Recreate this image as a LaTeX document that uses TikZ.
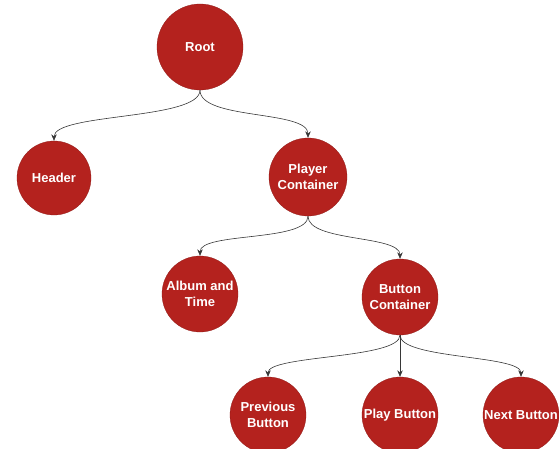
\documentclass[tikz,border=0pt]{standalone}
\usepackage{fontspec}
\setmainfont{Liberation Sans}
\usetikzlibrary{arrows.meta}

\definecolor{treered}{RGB}{180, 34, 30}
\definecolor{linkgray}{RGB}{55, 55, 55}

\begin{document}
\begin{tikzpicture}[x=1pt, y=-1pt,
    comp/.style={circle, fill=treered, draw=treered!80!black, line width=0.3pt,
      minimum size=76pt, inner sep=0pt, text=white, align=center,
      font=\fontsize{13}{16}\selectfont\bfseries},
    link/.style={draw=linkgray, line width=0.6pt, -{Stealth[length=6.5pt,width=5.5pt]}}]
    \useasboundingbox (0,0) rectangle (559,449);

    % Root
    \node[comp, minimum size=86pt] (root) at (200,47) {Root};

    % Second level
    \node[comp, minimum size=74pt] (header) at (54,178) {Header};
    \node[comp, minimum size=78pt] (player) at (308,177) {Player\\Container};

    % Third level
    \node[comp] (album) at (200,294) {Album and\\Time};
    \node[comp] (buttons) at (400,297) {Button\\Container};

    % Buttons
    \node[comp] (prev) at (268,415) {Previous\\Button};
    \node[comp] (play) at (400,415) {Play Button};
    \node[comp] (next) at (521,415) {Next Button};

    % Links
    \draw[link] (root.south) .. controls +(0,30) and +(0,-28) .. (header.north);
    \draw[link] (root.south) .. controls +(0,30) and +(0,-28) .. (player.north);
    \draw[link] (player.south) .. controls +(0,26) and +(0,-24) .. (album.north);
    \draw[link] (player.south) .. controls +(0,26) and +(0,-24) .. (buttons.north);
    \draw[link] (buttons.south) .. controls +(0,24) and +(0,-22) .. (prev.north);
    \draw[link] (buttons.south) -- (play.north);
    \draw[link] (buttons.south) .. controls +(0,24) and +(0,-22) .. (next.north);
  \end{tikzpicture}
\end{document}
